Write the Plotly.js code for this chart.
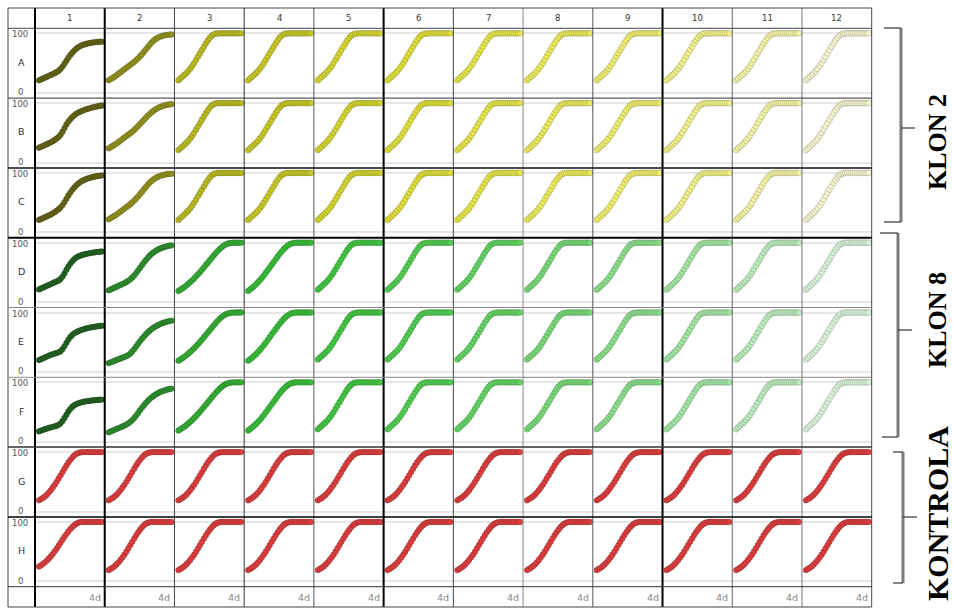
<!DOCTYPE html>
<html>
<head>
<meta charset="utf-8">
<script src="https://cdn.plot.ly/plotly-3.0.1.min.js"></script>
<style>html,body{margin:0;padding:0;background:#fff;}#chart{width:953px;height:610px;}</style>
</head>
<body>
<div id="chart"></div>
<script>
// ---------------- DATA ----------------
const columnLabels = ['1','2','3','4','5','6','7','8','9','10','11','12'];
const rowLabels = ['A','B','C','D','E','F','G','H'];
const yTickLabels = ['0','100'];
const footerLabel = '4d';
const groupLabels = ['KLON 2','KLON 8','KONTROLA'];
const hours = [0,3,6,9,12,15,18,21,24,27,30,33,36,39,42,45,48,51,54,57,60,63,66,69,72,75,78,81,84,87,90,93,96];

// yellow (KLON 2) curves
const yellowA1 = [21,22.5,24,25.5,27,28.5,30,31.5,33,35,37,40,44,49,54,59,63.5,67.5,71,74,76.5,78.5,80,81.2,82.2,83,83.7,84.3,84.8,85.2,85.5,85.8,86];
const yellowB1 = [25,26.5,28,29.5,31,32.5,34,36,38,40.5,43,47,52,58,64,69,73,76.5,79.5,82,84,85.5,87,88.3,89.5,90.5,91.5,92.5,93.3,94,94.7,95.3,96];
const yellowC1 = [21,22.5,24,25.5,27,28.5,30,32,34,36.5,39,42,46,51,56.5,62,67,71.5,75.5,79,82,84.5,86.5,88.2,89.6,90.8,91.8,92.7,93.5,94.2,94.8,95.3,95.8];
const yellowA2 = [21,23,25,27,29.5,32,34.5,37,39.5,42,44.5,47,49.5,52,55,58,61.5,65,69,73,77,81,85,88,90.5,92.5,94,95.2,96.2,97,97.5,97.8,98];
const yellowB2 = [24,26,28,30,32,34.5,37,39.5,42,44.5,47,49.5,52,55,58,61.5,65,68.5,72,75.5,79,82,85,87.5,89.7,91.6,93.2,94.6,95.7,96.6,97.3,97.8,98.2];
const yellowC2 = [22,24,26,28,30,32.5,35,37.5,40,42.5,45,47.5,50.5,53.5,57,60.5,64.5,68.5,72.5,76.5,80.5,84,87,89.5,91.6,93.3,94.7,95.8,96.7,97.4,97.9,98.3,98.6];
const sigmoidFast = [21,24,27,30,33,36.5,40.5,45,50,55.5,61,66.5,72,77.5,83,88,92.5,96,98.2,99.3,99.8,100,100,100,100,100,100,100,100,100,100,100,100];

// green (KLON 8) curves
const greenD1 = [21.5,23,24.5,26,27.5,29,30.5,32,33.5,35,36.5,39,43,48.5,54.5,60,65,69,72.5,75,76.8,78.2,79.4,80.3,81.1,81.8,82.4,83,83.5,84,84.4,84.8,85.2];
const greenE1 = [20,21.5,23,24.5,26,27.5,28.8,30,31,32,33,35,38.5,43.5,49,54.5,59,62.5,65,67,68.6,70,71.2,72.2,73.1,73.9,74.6,75.3,75.9,76.4,76.9,77.3,77.7];
const greenF1 = [17.5,18.8,20,21.2,22.3,23.3,24.3,25.2,26,27,28.5,31,35,40,45.5,51,55.5,59,61.5,63.3,64.7,65.8,66.7,67.4,68,68.5,69,69.4,69.8,70.1,70.4,70.7,71];
const greenD2 = [20,21.5,23,24.5,26,27.5,29,30.5,32,34,36,38.5,41.5,45,49,53.5,58,62.5,67,71,75,78.5,81.5,84,86.3,88.2,89.8,91.2,92.4,93.4,94.3,95,95.6];
const greenE2 = [15,16.3,17.6,18.9,20.2,21.5,22.8,24.1,25.4,26.8,28.5,31,34.5,38.5,43,47.5,52,56,60,63.5,66.8,69.8,72.5,74.8,76.8,78.6,80.2,81.6,82.8,83.9,84.8,85.6,86.3];
const greenF2 = [16,17.4,18.8,20.2,21.6,23,24.4,25.8,27.3,29,31,33.5,36.5,40,44,48.5,53,57.5,61.5,65.5,69,72.2,75,77.5,79.7,81.6,83.3,84.7,85.9,87,87.9,88.7,89.4];
const green3 = [19,21,23.2,25.5,28,30.8,33.7,36.8,40,43.5,47,50.7,54.5,58.5,62.5,66.5,70.5,74.5,78.5,82.3,86,89.3,92.3,94.8,96.8,98.2,99.1,99.6,99.9,100,100,100,100];
const green4 = [19,21.5,24,27,30,33.5,37,41,45,49.5,54,58.5,63,67.5,72,76.5,81,85,88.7,92,94.8,97,98.5,99.4,99.8,100,100,100,100,100,100,100,100];

// red (KONTROLA) curves
const redG = [19,21,23,25.5,28.5,32,36,40.5,45,50,55.5,61,66.5,72,77.5,82.5,87,91,94.5,97,98.6,99.5,99.9,100,100,100,100,100,100,100,100,100,100];
const redH1 = [25,27,29.5,32,35,38.5,42,46,50.5,55,60,65,70,75,79.5,84,88,91.5,94.5,97,98.6,99.5,99.9,100,100,100,100,100,100,100,100,100,100];

const yellowColors = ['#626214','#91911b','#baba20','#c8c826','#d5d52f','#dfdf39','#e6e648','#ebeb5a','#efef6f','#f2f288','#f4f4a6','#f5f5cf'];
const greenColors  = ['#1f611f','#2b8e2b','#32ad32','#36bd36','#40c740','#50ce50','#62d462','#76d976','#8bdf8b','#a3e5a3','#bcecbc','#d9f3d9'];
const redColor = '#dc3c3c';

// curve assignment per well row
const wellCurves = {
  A: [yellowA1, yellowA2].concat(Array(10).fill(sigmoidFast)),
  B: [yellowB1, yellowB2].concat(Array(10).fill(sigmoidFast)),
  C: [yellowC1, yellowC2].concat(Array(10).fill(sigmoidFast)),
  D: [greenD1, greenD2, green3, green4].concat(Array(8).fill(sigmoidFast)),
  E: [greenE1, greenE2, green3, green4].concat(Array(8).fill(sigmoidFast)),
  F: [greenF1, greenF2, green3, green4].concat(Array(8).fill(sigmoidFast)),
  G: Array(12).fill(redG),
  H: [redH1].concat(Array(11).fill(redG))
};
function wellColor(r, c) {
  if (r < 3) return yellowColors[c];
  if (r < 6) return greenColors[c];
  return redColor;
}

// ---------------- LAYOUT ----------------
const W = 953, H = 610;
const gL = 35, gR = 871.7, gT = 28.3, gB = 586.7;
const cw = (gR - gL) / 12, rh = (gB - gT) / 8;
const px = x => x / W, py = y => 1 - y / H;

const traces = [];
const layout = {
  width: W, height: H,
  margin: {l: 0, r: 0, t: 0, b: 0, pad: 0},
  paper_bgcolor: '#ffffff', plot_bgcolor: 'rgba(0,0,0,0)',
  showlegend: false,
  shapes: [], annotations: []
};

rowLabels.forEach((rl, r) => {
  columnLabels.forEach((cl, c) => {
    const idx = r * 12 + c + 1;
    const xa = idx === 1 ? 'xaxis' : 'xaxis' + idx;
    const ya = idx === 1 ? 'yaxis' : 'yaxis' + idx;
    const x0 = gL + c * cw, x1 = x0 + cw;
    const y0 = gT + r * rh, y1 = y0 + rh;
    layout[xa] = {
      domain: [px(x0), px(x1)], range: [-6.1, 100.6],
      showgrid: false, zeroline: false, showticklabels: false, showline: false,
      ticks: '', fixedrange: true, anchor: idx === 1 ? 'y' : 'y' + idx
    };
    layout[ya] = {
      domain: [py(y1), py(y0)], range: [-8.9, 108.4],
      showgrid: true, gridcolor: '#e6e6e6', gridwidth: 2, tickvals: [0, 100],
      zeroline: false, showticklabels: false, showline: false,
      ticks: '', fixedrange: true, anchor: idx === 1 ? 'x' : 'x' + idx
    };
    const col = wellColor(r, c);
    traces.push({
      type: 'scatter', mode: 'markers',
      x: hours, y: wellCurves[rl][c],
      xaxis: idx === 1 ? 'x' : 'x' + idx,
      yaxis: idx === 1 ? 'y' : 'y' + idx,
      cliponaxis: false,
      marker: {size: 5.8, color: col, line: {color: 'rgba(30,30,30,0.38)', width: 0.5}},
      hoverinfo: 'skip'
    });
  });
});

// grid lines
function line(x0, y0, x1, y1, color, width) {
  layout.shapes.push({type: 'line', xref: 'paper', yref: 'paper',
    x0: px(x0), y0: py(y0), x1: px(x1), y1: py(y1), line: {color: color, width: width}, layer: 'above'});
}
const vStyle = [['#000',2],['#000',2],['#444',1],['#333',1],['#555',1],['#000',2],['#444',1],['#888',1],['#555',1],['#000',2],['#666',1],['#777',1],['#444',1]];
for (let i = 0; i <= 12; i++) line(gL + i * cw, 8, gL + i * cw, 607, vStyle[i][0], vStyle[i][1]);
line(8, 8, 8, 607, '#444', 1);
const hStyle = [['#444',1],['#333',1],['#111',1.5],['#000',2],['#888',1],['#888',1],['#333',1.5],['#000',1.5],['#333',1]];
for (let j = 0; j <= 8; j++) line(8, gT + j * rh, gR, gT + j * rh, hStyle[j][0], hStyle[j][1]);
line(8, 8, gR, 8, '#444', 1);
line(8, 607, gR, 607, '#444', 1);

// brackets
function bracket(xv, yTop, yBot, hookTop, hookBot, yTick, tickEnd) {
  layout.shapes.push({type: 'line', xref: 'paper', yref: 'paper', x0: px(xv), y0: py(yTop), x1: px(xv), y1: py(yBot), line: {color: '#7a7a7a', width: 3}});
  line(hookTop, yTop, xv, yTop, '#333', 1.2);
  line(hookBot, yBot, xv, yBot, '#333', 1.2);
  line(xv, yTick, tickEnd, yTick, '#333', 1.2);
}
bracket(901, 28, 222, 884, 884, 128, 915);
bracket(898, 233, 437, 880, 882, 330, 912);
bracket(903, 452, 583, 893, 893, 517, 917);

// text labels
function ann(text, x, y, size, color, extra) {
  layout.annotations.push(Object.assign({text: text, xref: 'paper', yref: 'paper', x: px(x), y: py(y),
    showarrow: false, font: {family: 'DejaVu Sans, Verdana, sans-serif', size: size, color: color},
    xanchor: 'center', yanchor: 'middle'}, extra || {}));
}
columnLabels.forEach((cl, c) => ann(cl, gL + (c + 0.5) * cw, 18, 8.5, '#333'));
rowLabels.forEach((rl, r) => {
  const top = gT + r * rh;
  ann(rl, 21, top + rh / 2 - 1, 9.5, '#333');
  ann(yTickLabels[1], 20, top + 6, 8.5, '#555');
  ann(yTickLabels[0], 20, top + rh - 6, 8.5, '#555');
});
columnLabels.forEach((cl, c) => ann(footerLabel, gL + (c + 1) * cw - 2, 597, 9.5, '#888', {xanchor: 'right'}));

const serif = {family: 'Liberation Serif, Times New Roman, serif', size: 26, color: '#000'};
layout.annotations.push({text: '<b>' + groupLabels[0] + '</b>', xref: 'paper', yref: 'paper', x: px(937), y: py(142), textangle: -90, showarrow: false, font: serif, xanchor: 'center', yanchor: 'middle'});
layout.annotations.push({text: '<b>' + groupLabels[1] + '</b>', xref: 'paper', yref: 'paper', x: px(937), y: py(320), textangle: -90, showarrow: false, font: serif, xanchor: 'center', yanchor: 'middle'});
layout.annotations.push({text: '<b>' + groupLabels[2] + '</b>', xref: 'paper', yref: 'paper', x: px(937), y: py(514), textangle: -90, showarrow: false, font: Object.assign({}, serif, {size: 30}), xanchor: 'center', yanchor: 'middle'});

Plotly.newPlot('chart', traces, layout, {staticPlot: true, displayModeBar: false});
</script>
</body>
</html>
